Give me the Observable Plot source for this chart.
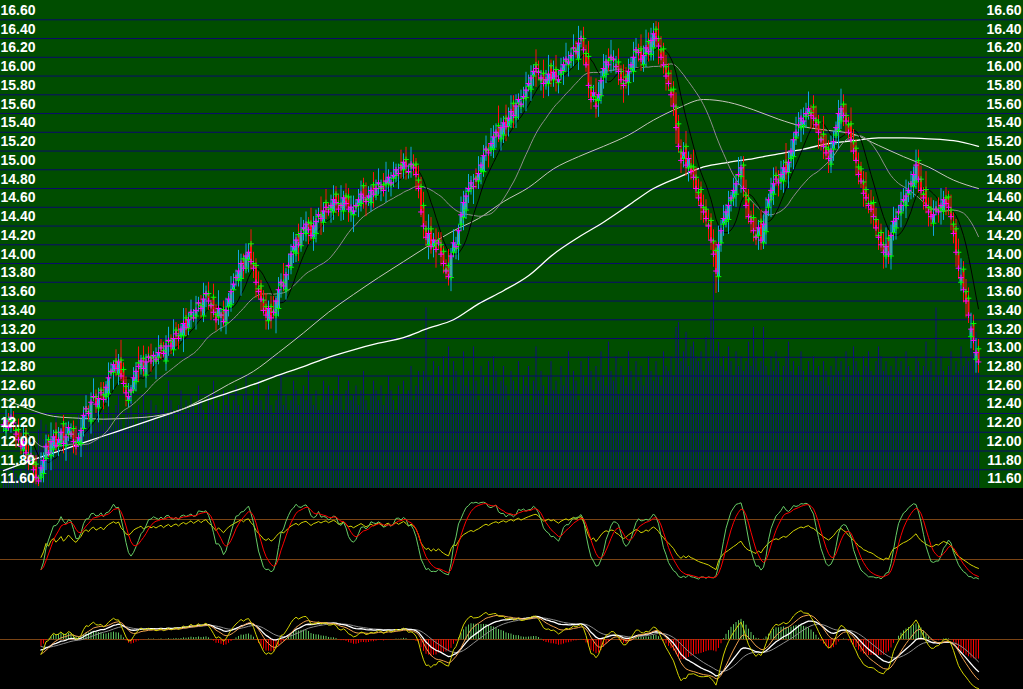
<!DOCTYPE html>
<html><head><meta charset="utf-8">
<script src="https://cdn.jsdelivr.net/npm/d3@7"></script>
<script src="https://cdn.jsdelivr.net/npm/@observablehq/plot@0.6"></script>
<style>
html,body{margin:0;padding:0;background:#000;}
#chart{position:relative;width:1023px;height:689px;background:#000;overflow:hidden;}
</style></head><body><div id="chart"></div>
<script>
// ---- price ticks (left & right scale) ----
const priceTicks = [16.6,16.4,16.2,16.0,15.8,15.6,15.4,15.2,15.0,14.8,14.6,14.4,14.2,14.0,13.8,13.6,13.4,13.2,13.0,12.8,12.6,12.4,12.2,12.0,11.8,11.6];

// ---- daily candles, prices in cents ----
const openCents = [1226,1222,1234,1232,1233,1222,1223,1212,1201,1219,1196,1193,1188,1186,1171,
1172,1176,1192,1212,1195,1202,1220,1206,1208,1229,1206,1218,1218,1224,1209,1209,1208,
1224,1245,1242,1232,1257,1258,1246,1265,1260,1258,1261,1284,1284,1296,1282,
1297,1287,1269,1254,1263,1265,1274,
1294,1288,1299,1281,1301,1299,1300,1296,1300,1312,1307,1296,1317,1318,1308,1329,
1323,1323,1323,1342,1331,1344,1342,1344,1357,1355,1344,1367,1368,1356,1364,1346,1343,1345,1351,1337,
1354,1356,1372,1385,1382,1384,1405,1395,1404,1421,1400,
1398,1373,1376,1361,1354,1339,1354,1349,1345,
1352,1377,1380,1372,1397,1396,1413,1411,1431,1419,1436,1432,1444,1443,1427,1432,
1450,1452,1444,1465,1458,1458,1455,1474,1464,1462,1456,1472,1471,1455,1452,1461,1462,1464,1483,1468,1469,1465,1484,1473,1484,1480,1484,1485,1485,1484,1491,1494,1496,1505,1500,1511,1497,1504,1505,1506,
1489,1482,1462,1437,1420,1437,1418,1421,1424,1420,1413,1393,1398,
1385,1412,1416,1420,1442,1449,1457,1477,1480,1482,1491,1488,1499,1498,1521,1521,1522,1522,
1537,1547,1533,1537,1555,1546,1551,1571,1556,1571,1568,1576,1577,1589,1586,1600,1612,1605,1596,1603,1592,1592,1611,1596,1607,1593,1602,1605,1616,1612,1617,1629,1627,1618,1640,
1640,1624,1621,1588,1578,1575,1574,
1579,1599,1602,1617,1619,1617,1610,1615,1605,1592,1599,1593,1608,1605,1626,1627,1629,1612,1624,1637,1623,1630,1650,1640,
1628,1629,1610,1603,1585,1586,1567,1549,1519,1512,1525,1502,1504,1503,1492,1476,1479,1460,1458,1441,1446,1424,1414,
1386,1422,1442,1445,1447,1467,1470,1474,1494,1493,
1505,1473,1468,1449,1449,1429,1430,1445,
1422,1434,1460,1468,1474,1494,1488,1489,1488,1508,1497,1512,1514,1534,1547,1545,1547,1557,1560,1561,1567,
1553,1551,1533,1538,1524,1522,1506,1522,
1537,1542,1552,1570,1558,
1548,1549,1530,1523,1503,1501,1487,1479,1464,1464,1465,1447,1430,1433,1420,1408,1427,
1408,1433,1438,1454,1454,1466,1462,1474,1485,1482,1487,
1510,1490,1474,1479,1460,1458,1443,1458,1457,1459,1456,1470,1471,1457,
1442,1437,1412,1380,1394,1370,1363,1322,1336,1298,1309];

const closeCents = [1228,1232,1225,1236,1230,1218,1212,1205,1210,1198,1190,1195,1180,1172,1168,
1182,1190,1205,1198,1210,1215,1206,1212,1220,1208,1215,1225,1218,1210,1205,1214,1222,
1238,1245,1240,1252,1258,1250,1256,1262,1255,1268,1278,1285,1292,1288,1295,
1280,1272,1262,1258,1265,1278,1285,
1290,1296,1288,1295,1300,1296,1302,1298,1305,1310,1304,1312,1318,1312,1320,1325,
1320,1330,1336,1332,1340,1348,1342,1350,1358,1352,1362,1368,1360,1355,1348,1340,1352,1345,1338,1350,
1362,1370,1378,1385,1392,1400,1395,1408,1412,1402,1395,
1380,1370,1362,1350,1345,1352,1342,1348,1360,
1372,1380,1376,1388,1398,1410,1418,1425,1420,1432,1438,1442,1436,1430,1440,1445,
1452,1448,1456,1460,1455,1462,1468,1465,1458,1462,1470,1464,1458,1460,1456,1462,1468,1474,1470,1466,1472,1478,1474,1480,1486,1482,1478,1488,1492,1486,1494,1500,1496,1502,1508,1504,1498,1506,1502,1495,
1480,1455,1440,1428,1432,1418,1425,1415,1422,1410,1400,1392,1386,
1408,1422,1418,1435,1452,1465,1472,1480,1486,1482,1490,1496,1505,1515,1522,1518,1528,1535,
1540,1536,1545,1550,1546,1555,1562,1558,1568,1575,1570,1578,1585,1592,1598,1605,1608,1604,1598,1592,1596,1602,1598,1604,1600,1596,1606,1612,1618,1615,1622,1630,1626,1635,1640,
1628,1612,1590,1575,1582,1568,1580,
1595,1608,1615,1612,1620,1618,1610,1605,1596,1590,1595,1605,1612,1620,1628,1625,1618,1622,1630,1626,1638,1645,1640,1632,
1620,1612,1600,1592,1580,1568,1545,1525,1510,1518,1505,1512,1498,1492,1480,1470,1462,1455,1448,1440,1425,1410,1392,
1420,1435,1448,1455,1462,1470,1478,1485,1495,1502,
1480,1462,1450,1445,1435,1428,1438,1425,
1442,1455,1468,1478,1485,1490,1486,1495,1502,1498,1508,1520,1532,1540,1548,1555,1552,1560,1565,1558,1555,
1548,1540,1532,1525,1518,1512,1520,1530,
1545,1560,1565,1558,1552,
1540,1532,1520,1510,1495,1488,1475,1470,1462,1458,1450,1438,1428,1420,1412,1418,1410,
1430,1445,1448,1455,1462,1468,1472,1478,1485,1495,1505,
1490,1478,1470,1462,1455,1450,1452,1458,1455,1462,1468,1464,1460,1450,
1432,1412,1395,1385,1372,1360,1345,1330,1318,1305,1295];

// upper shadow above the body top, lower shadow below the body bottom (cents)
const upperWick = [8,12,6,15,9,4,11,7,18,5,10,14,6,9,3,16,8,12,5,20,7,10,13,4,9,15,6,11,8,17,5,12,9,14,6,10,19,7,11,8,
13,6,16,9,4,12,8,21,7,10,14,5,11,9,17,6,13,8,10,15,4,12,18,7,9,11,14,6,20,8,12,5,16,10,7,13,9,15,6,11,
17,8,12,5,14,10,19,7,9,13,6,16,11,8,22,10,5,13,9,15,12,7,18,6,10,14,8,11,16,5,13,9,20,7,12,10,15,6,11,17,
8,13,5,16,10,12,7,19,9,14,6,11,15,8,10,21,7,13,9,12,16,6,11,14,8,18,10,5,13,9,15,7,12,20,8,11,14,6,10,16,
9,13,7,18,11,6,15,10,14,8,20,12,7,16,9,13,5,11,17,8,14,10,6,19,12,9,15,7,13,10,18,8,11,14,6,16,12,9,21,10,
7,14,11,17,8,12,6,15,10,19,9,13,7,16,11,8,14,10,20,6,12,15,9,13,8,17,11,7,14,10,18,8,12,9,16,11,8,22,13,10,
15,7,12,18,9,11,14,6,20,10,13,8,16,12,7,15,10,19,9,13,11,8,17,14,6,12,10,21,8,15,9,13,11,16,7,12,18,10,14,8,
13,10,16,7,12,9,20,11,14,8,15,6,13,10,18,12,9,16,11,7,14,19,8,12,10,15,6,13,17,9,11,14,8,20,10,12,7,16,13,9,
14,11,18,8,12,15,7,10,19,13,9,16,11,6,14,21,10,12,8,17,13,9,15,7,11,18,10,14,6,12,16,9,13,20,8,11,15,10,7,14,
12,17,9,13,8,16,11,14,7,19,10,12,15,8,13,18,9,11,6,16,12,10,14,20,8,13,11,17,9,15,10];
const lowerWick = [6,10,4,13,8,15,5,9,12,7,11,4,14,8,6,6,10,13,5,16,9,7,12,4,11,17,8,6,13,10,5,15,9,12,7,14,4,10,16,8,
11,7,14,5,19,9,12,6,10,15,8,13,4,11,17,7,9,14,6,12,10,20,8,13,5,11,16,9,7,14,12,6,18,10,8,13,5,15,9,11,
7,14,10,16,6,12,9,18,5,13,11,8,15,10,7,19,12,6,14,9,11,17,8,13,5,16,10,12,7,20,9,14,6,11,15,8,13,10,18,7,
12,9,16,6,14,10,7,18,11,13,5,15,9,12,8,17,10,6,14,11,19,7,13,9,12,16,8,10,15,6,11,14,7,20,9,13,10,8,17,12,
10,15,7,13,9,18,11,6,14,10,16,8,12,20,7,13,11,9,10,15,6,12,17,8,14,10,13,7,19,11,9,15,6,12,16,8,10,14,7,13,
9,16,11,7,14,12,18,8,10,15,6,13,11,20,9,12,16,7,14,10,8,17,12,6,15,11,13,9,19,7,12,10,16,8,14,11,6,13,18,9,
13,10,7,16,12,8,15,11,19,9,14,6,12,17,10,13,8,15,11,7,14,9,20,12,10,16,8,13,11,18,7,14,10,12,15,9,13,11,8,16,
12,9,15,11,14,24,17,10,13,7,16,12,9,14,11,18,10,15,8,13,12,9,16,11,7,14,10,19,12,8,15,11,13,9,17,10,14,8,12,16,
10,13,7,15,11,9,18,12,14,8,16,10,13,11,20,9,12,15,7,14,10,17,11,8,15,12,9,16,13,10,14,7,18,13,11,15,9,13,8,16,
11,14,9,17,12,8,15,10,13,9,16,11,14,7,12,18,10,13,9,15,11,16,12,10,14,18,9,13,11,15,12];

// ---- volume (10k lots) ----
const volume = [3,4,2,3,5,3,2,4,3,5,4,3,6,8,
12,14,10,13,11,9,12,15,10,13,11,12,14,10,9,13,15,12,11,16,14,12,13,18,15,13,
16,14,22,15,13,17,19,14,12,16,15,18,14,13,17,15,19,16,14,18,15,
17,14,16,19,15,22,18,16,14,17,20,15,18,16,19,17,15,21,18,16,14,19,17,22,16,18,15,20,17,19,16,18,21,17,15,19,23,18,16,
20,17,22,18,16,19,21,17,15,18,20,23,17,19,16,18,22,20,17,19,21,18,24,19,17,20,16,18,22,19,21,17,20,18,23,19,16,20,22,18,19,21,17,20,24,18,16,19,22,20,18,21,17,19,23,20,18,16,21,19,
22,19,20,25,18,21,24,20,24,37,22,23,26,19,25,21,27,18,29,20,26,24,19,23,28,21,24,20,29,22,18,25,23,21,26,20,27,24,19,22,25,
21,18,24,22,20,26,19,23,21,25,18,22,29,20,24,21,17,23,26,20,22,19,25,21,23,28,20,24,22,18,26,23,21,27,24,20,25,22,28,23,
21,30,24,22,27,19,25,23,21,28,24,20,26,22,25,21,23,27,24,22,26,23,21,28,25,24,27,23,33,34,26,28,32,25,29,30,27,26,28,24,
31,26,35,44,28,30,25,27,24,29,26,23,28,25,27,24,26,30,25,33,
27,24,26,33,25,23,27,24,28,26,22,25,27,30,24,26,23,25,28,24,22,26,24,27,23,25,22,26,24,21,25,23,27,24,26,22,28,25,23,29,
26,24,22,27,25,28,24,23,26,29,27,24,26,23,25,22,27,24,26,23,28,25,24,22,27,26,23,25,30,24,26,22,37,23,27,24,21,25,28,23,26,24,29,25,27,26,30,28,32,25];

// ---- long moving averages read every 10 bars ----
const maSampleBars = d3.range(0, 400, 10);
const ma60Values = [12.56,12.45,12.37,12.35,12.34,12.35,12.37,12.43,12.56,12.71,12.85,13.05,13.26,13.48,13.67,13.85,14.02,14.19,14.35,14.48,14.66,14.81,15.01,15.14,15.25,15.37,15.53,15.66,15.75,15.72,15.64,15.54,15.46,15.42,15.38,15.26,15.14,15.03,14.89,14.80];
const ma250Values = [11.79,11.89,11.98,12.07,12.16,12.25,12.34,12.43,12.53,12.62,12.71,12.81,12.90,13.00,13.08,13.15,13.21,13.31,13.40,13.57,13.71,13.87,14.10,14.28,14.44,14.62,14.80,14.92,15.03,15.08,15.12,15.17,15.22,15.28,15.31,15.34,15.34,15.33,15.31,15.25];

// ---- build tables ----
const N = Math.min(openCents.length, closeCents.length, upperWick.length, lowerWick.length, volume.length);
const bars = d3.range(N).map(i => {
  const o = openCents[i], c = closeCents[i];
  return {i, o: o/100, c: c/100, h: (Math.max(o, c) + upperWick[i])/100, l: (Math.min(o, c) - lowerWick[i])/100, v: volume[i]};
});
const ma60 = maSampleBars.map((b, j) => ({i: b, v: ma60Values[j]}));
const ma250 = maSampleBars.map((b, j) => ({i: b, v: ma250Values[j]}));
const upBars = bars.filter(b => b.c >= b.o).map(b => ({...b, top: b.c, bot: b.o}));
const dnBars = bars.filter(b => b.c < b.o);

// indicators derived from the candles
function ema(arr, n){ const a = 2/(n+1); let e = arr[0]; return arr.map((x,i)=> (e = i===0 ? x : a*x + (1-a)*e)); }
const C = bars.map(b=>b.c);
let kk = 50, dd = 50, ag = 0, aa = 0;
const stoch = bars.map((b, i) => {
  const w = bars.slice(Math.max(0, i-8), i+1);
  const lo = d3.min(w, d=>d.l), hi = d3.max(w, d=>d.h);
  const rsv = hi > lo ? (b.c - lo)/(hi - lo)*100 : 50;
  kk = (2*kk + rsv)/3; dd = (2*dd + kk)/3;
  const diff = i ? b.c - bars[i-1].c : 0;
  ag = (Math.max(diff,0) + 23*ag)/24; aa = (Math.abs(diff) + 23*aa)/24;
  return {i, k: kk, d: dd, rsi: aa > 0 ? ag/aa*100 : 50};
});
const e3 = ema(C, 3), e15 = ema(C, 15), e12 = ema(C, 12), e26 = ema(C, 26);
const dif = C.map((c,i)=> e12[i]-e26[i]);
const dea = ema(dif, 9);
const fast = C.map((c,i)=> e3[i]-e15[i]);
const fastMa = ema(fast, 8);
const START = 15;
const osc = bars.map((b,i)=>({i, dif: dif[i], dea: dea[i], fast: fast[i], fastMa: fastMa[i], hist: 2*(dif[i]-dea[i])})).filter(d=>d.i>=START);
const kdj = stoch.filter(d=>d.i>=START);
const M = d3.max(osc, d => Math.max(Math.abs(d.dif), Math.abs(d.dea), Math.abs(d.fast), Math.abs(d.fastMa), Math.abs(d.hist))) * 1.02;

// ---- styling ----
const W = 1023;
const X = {domain: [0, N-1], range: [3, 978]};
const GREEN_BG = "#004d00", GRID = "#0b0b6c", VOL = "#12127a";
const RED = "#ff1010", CYAN = "#12a6e0", PALE = "#6aaa6a", BROWN = "#7a4414";
const FONT = "Liberation Sans, Arial, sans-serif";
const chart = document.getElementById("chart");
const pos = (top) => ({position: "absolute", left: "0px", top: top + "px", background: "transparent", overflow: "hidden"});

// volume layer
chart.append(Plot.plot({
  width: W, height: 488, margin: 0, x: X, y: {domain: [0, 100], range: [488, 0]}, axis: null,
  style: {...pos(0), background: GREEN_BG},
  marks: [
    Plot.ruleX(bars, {x: "i", y1: 0, y2: "v", stroke: VOL, strokeWidth: 1})
  ]
}));

// price layer
const labelOpts = {fill: "#fff", fontSize: 14, fontWeight: "bold", fontFamily: FONT, dy: -9.5, text: d => d.toFixed(2)};
chart.append(Plot.plot({
  width: W, height: 488, margin: 0, x: X, y: {domain: [11.6, 16.806], range: [488, 0]}, axis: null,
  style: pos(0),
  marks: [
    Plot.ruleY(priceTicks, {stroke: GRID}),
    Plot.line(ma250, {x: "i", y: "v", stroke: "#ffffff", strokeWidth: 1.3, curve: "monotone-x"}),
    Plot.line(ma60, {x: "i", y: "v", stroke: "#c4c4bc", strokeWidth: 1, curve: "monotone-x"}),
    Plot.line(bars, Plot.windowY({k: 30, anchor: "end"}, {x: "i", y: "c", stroke: "#8e8e8e", strokeWidth: 1})),
    Plot.line(bars, Plot.windowY({k: 10, anchor: "end"}, {x: "i", y: "c", stroke: "#000000", strokeWidth: 1})),
    Plot.ruleX(dnBars, {x: "i", y1: "l", y2: "h", stroke: RED, strokeWidth: 1, clip: true}),
    Plot.ruleX(dnBars, {x: "i", y1: "o", y2: "c", stroke: RED, strokeWidth: 2}),
    Plot.ruleX(upBars, {x: "i", y1: "l", y2: "h", stroke: CYAN, strokeWidth: 1, clip: true}),
    Plot.ruleX(upBars, {x: "i", y1: "top", y2: "bot", stroke: CYAN, strokeWidth: 3}),
    Plot.ruleX(upBars, {x: "i", y1: "top", y2: "bot", stroke: PALE, strokeWidth: 1, insetTop: 1, insetBottom: 1}),
    Plot.dot(bars, {x: "i", y: "o", symbol: "plus", r: 2, stroke: "#00ff00", fill: "none", strokeWidth: 1}),
    Plot.dot(bars, {x: "i", y: "c", symbol: "plus", r: 2, stroke: "#ff00ff", fill: "none", strokeWidth: 1}),
    Plot.text(priceTicks, {y: d => d, frameAnchor: "left", textAnchor: "start", dx: 0, ...labelOpts}),
    Plot.text(priceTicks, {y: d => d, frameAnchor: "right", textAnchor: "end", dx: -2, ...labelOpts})
  ]
}));

// stochastic panel
chart.append(Plot.plot({
  width: W, height: 100, margin: 0, x: X, y: {domain: [0, 100], range: [100, 0]}, axis: null,
  style: pos(489),
  marks: [
    Plot.ruleY([30, 70], {stroke: BROWN}),
    Plot.line(kdj, {x: "i", y: "rsi", stroke: "#d2d200", strokeWidth: 1}),
    Plot.line(kdj, {x: "i", y: "k", stroke: "#66cc66", strokeWidth: 1}),
    Plot.line(kdj, {x: "i", y: "d", stroke: "#ff0000", strokeWidth: 1})
  ]
}));

// MACD panel
chart.append(Plot.plot({
  width: W, height: 100, margin: 0, x: X, y: {domain: [-M, M], range: [100, 0]}, axis: null,
  style: pos(589),
  marks: [
    Plot.ruleY([0], {stroke: BROWN}),
    Plot.ruleX(osc.filter(d=>d.hist>=0), {x: "i", y1: 0, y2: "hist", stroke: "#5fc45f", strokeWidth: 1}),
    Plot.ruleX(osc.filter(d=>d.hist<0), {x: "i", y1: 0, y2: "hist", stroke: "#ff0000", strokeWidth: 1}),
    Plot.line(osc, {x: "i", y: "dea", stroke: "#8c8c8c", strokeWidth: 1}),
    Plot.line(osc, {x: "i", y: "dif", stroke: "#ffffff", strokeWidth: 1.3}),
    Plot.line(osc, {x: "i", y: "fastMa", stroke: "#f0a050", strokeWidth: 1}),
    Plot.line(osc, {x: "i", y: "fast", stroke: "#d2d200", strokeWidth: 1})
  ]
}));
</script></body></html>
